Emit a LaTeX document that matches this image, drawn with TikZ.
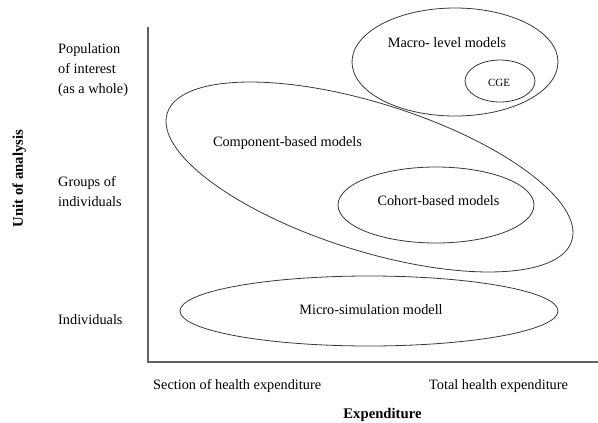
\documentclass[tikz,border=0pt]{standalone}
\usepackage{fontspec}
\setmainfont{Liberation Serif}
\usetikzlibrary{shapes.geometric}
\begin{document}
\begin{tikzpicture}[x=1pt,y=-1pt,
  oval/.style={draw=black!78, line width=0.8pt, ellipse, inner sep=0pt, outer sep=0pt},
  lbl/.style={font=\fontsize{14.3}{20}\selectfont, inner sep=0pt},
  small/.style={font=\fontsize{11}{13}\selectfont, inner sep=0pt},
  ttl/.style={font=\fontsize{14.7}{17}\selectfont\bfseries, inner sep=0pt},
  axis/.style={draw=black!62, line width=1.1pt}]
\useasboundingbox (0,0) rectangle (598,423);

% axes
\coordinate (ytop) at (148,27);
\coordinate (origin) at (148,362);
\coordinate (xend) at (598,362);
\draw[axis] (ytop) -- (origin) -- (xend);

% model families
\node[oval, minimum width=206pt, minimum height=108pt] (macro) at (455,62) {};
\node[oval, minimum width=70pt, minimum height=42pt] (cge) at (500,81) {};
\node[oval, minimum width=424.2pt, minimum height=147.6pt, rotate=-17.5] (comp) at (369.5,177) {};
\node[oval, minimum width=196pt, minimum height=76pt] (cohort) at (436,205) {};
\node[oval, minimum width=378pt, minimum height=70pt] (micro) at (369,311) {};

% model names
\node[lbl, anchor=base] (tmacro) at (447,47) {Macro- level models};
\node[small, anchor=base] (tcge) at (499,86) {CGE};
\node[lbl, anchor=base] (tcomp) at (287.5,146) {Component-based models};
\node[lbl, anchor=base] (tcohort) at (438.5,205) {Cohort-based models};
\node[lbl, anchor=base] (tmicro) at (371,314) {Micro-simulation modell};

% levels on the vertical axis
\node[lbl, anchor=base west] (pop1) at (58,53) {Population};
\node[lbl, anchor=base west] (pop2) at (58,73) {of interest};
\node[lbl, anchor=base west] (pop3) at (58,93) {(as a whole)};
\node[lbl, anchor=base west] (grp1) at (58,186) {Groups of};
\node[lbl, anchor=base west] (grp2) at (58,206) {individuals};
\node[lbl, anchor=base west] (ind) at (58,324) {Individuals};

% levels on the horizontal axis
\node[lbl, anchor=base west] (sect) at (153,389) {Section of health expenditure};
\node[lbl, anchor=base west] (total) at (429,389) {Total health expenditure};

% axis titles
\node[ttl, anchor=base] (xtitle) at (382.5,418) {Expenditure};
\node[ttl, anchor=base, rotate=90] (ytitle) at (23,178.5) {Unit of analysis};
\end{tikzpicture}
\end{document}
